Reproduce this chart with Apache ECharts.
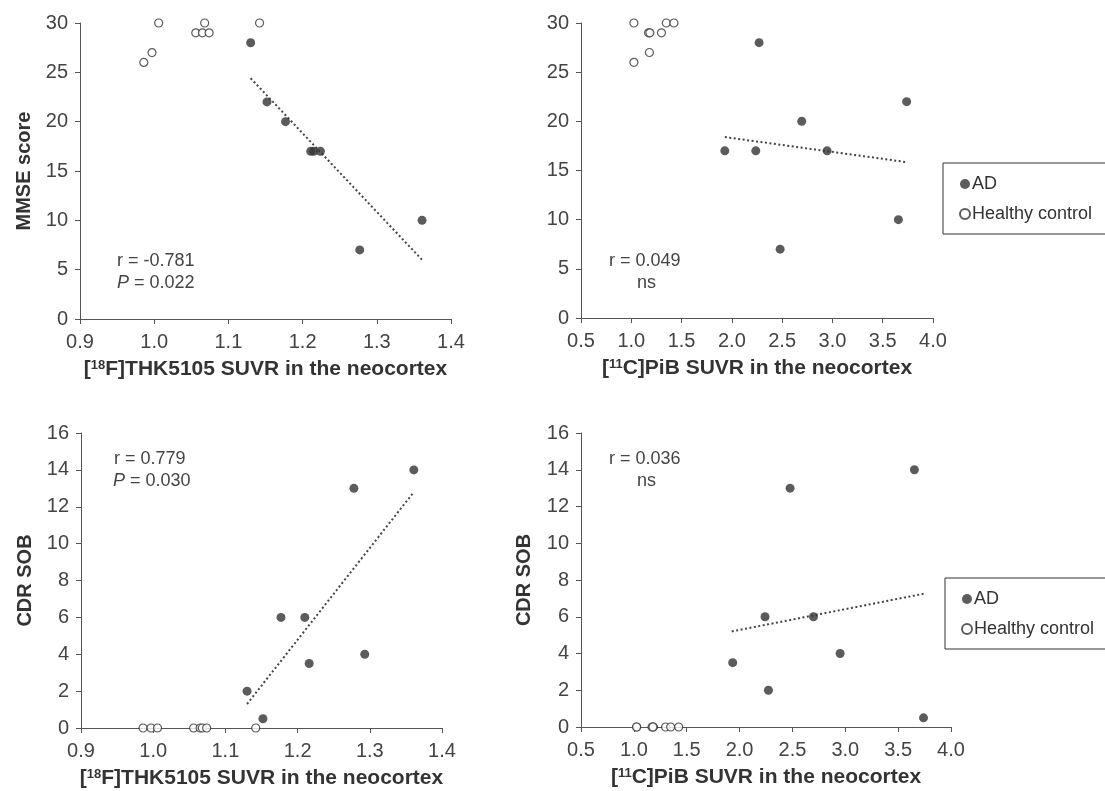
<!DOCTYPE html>
<html>
<head>
<meta charset="utf-8">
<title>THK5105 / PiB vs MMSE and CDR SOB</title>
<script src="https://cdn.jsdelivr.net/npm/echarts@6/dist/echarts.min.js"></script>
<style>
  html, body { margin: 0; padding: 0; background: #fff; }
  #chart { width: 1105px; height: 791px; }
</style>
</head>
<body>
<div id="chart"></div>
<script>
// panel 1: THK5105 SUVR vs MMSE
const thkMmseAdX = [1.130, 1.152, 1.177, 1.211, 1.215, 1.224, 1.277, 1.361];
const thkMmseAdY = [28, 22, 20, 17, 17, 17, 7, 10];
const thkHcX = [0.986, 0.997, 1.006, 1.056, 1.065, 1.068, 1.074, 1.142];
const thkMmseHcY = [26, 27, 30, 29, 29, 30, 29, 30];
const thkMmseTrendX = [1.130, 1.361];
const thkMmseTrendY = [24.4, 6.0];

// panel 2: PiB SUVR vs MMSE
const pibMmseAdX = [1.930, 2.238, 2.271, 2.480, 2.695, 2.947, 3.656, 3.738];
const pibMmseAdY = [17, 17, 28, 7, 20, 17, 10, 22];
const pibHcX = [1.026, 1.026, 1.172, 1.185, 1.180, 1.300, 1.348, 1.424];
const pibMmseHcY = [30, 26, 29, 29, 27, 29, 30, 30];
const pibMmseTrendX = [1.93, 3.738];
const pibMmseTrendY = [18.4, 15.85];

// panel 3: THK5105 SUVR vs CDR SOB
const thkCdrAdX = [1.130, 1.152, 1.177, 1.210, 1.216, 1.278, 1.293, 1.361];
const thkCdrAdY = [2, 0.5, 6, 6, 3.5, 13, 4, 14];
const thkCdrHcY = [0, 0, 0, 0, 0, 0, 0, 0];
const thkCdrTrendX = [1.130, 1.361];
const thkCdrTrendY = [1.3, 12.8];

// panel 4: PiB SUVR vs CDR SOB
const pibCdrAdX = [1.935, 2.241, 2.273, 2.478, 2.699, 2.951, 3.654, 3.740];
const pibCdrAdY = [3.5, 6, 2, 13, 6, 4, 14, 0.5];
const pibCdrHcY = [0, 0, 0, 0, 0, 0, 0, 0];
const pibCdrTrendX = [1.926, 3.74];
const pibCdrTrendY = [5.2, 7.25];

const statLabels = [
  ["r = -0.781", "{i|P} = 0.022"],
  ["r = 0.049", "ns"],
  ["r = 0.779", "{i|P} = 0.030"],
  ["r = 0.036", "ns"]
];

const FONT = "'Liberation Sans', Arial, sans-serif";
const AXIS_COLOR = "#555";
const LABEL_COLOR = "#444";
const DOT_COLOR = "#333";

const chart = echarts.init(document.getElementById("chart"));

function zip(xs, ys) {
  return xs.map((x, i) => [x, ys[i]]);
}

function xAxis(gridIndex, min, max, interval, tracer) {
  return {
    type: "value", gridIndex, min, max, interval,
    axisLine: { show: true, lineStyle: { color: AXIS_COLOR, width: 1 } },
    axisTick: { show: true, inside: false, length: 5, lineStyle: { color: AXIS_COLOR } },
    splitLine: { show: false },
    axisLabel: { color: LABEL_COLOR, fontSize: 20, fontFamily: FONT, margin: 13, formatter: (v) => v.toFixed(1) },
    name: "[{s|" + tracer[0] + "}" + tracer[1] + "]" + tracer[2] + " SUVR in the neocortex",
    nameLocation: "middle",
    nameGap: 40,
    nameTextStyle: {
      color: "#333", fontSize: 21, fontWeight: "bold", fontFamily: FONT,
      rich: { s: { fontSize: 13, fontWeight: "bold", fontFamily: FONT, color: "#333", padding: [0, 0, 8, 0] } }
    }
  };
}

function yAxis(gridIndex, max, interval, name, gap) {
  return {
    type: "value", gridIndex, min: 0, max, interval,
    axisLine: { show: true, lineStyle: { color: AXIS_COLOR, width: 1 } },
    axisTick: { show: true, inside: false, length: 5, lineStyle: { color: AXIS_COLOR } },
    splitLine: { show: false },
    axisLabel: { color: LABEL_COLOR, fontSize: 20, fontFamily: FONT, margin: 12 },
    name, nameLocation: "middle", nameGap: gap,
    nameTextStyle: { color: "#333", fontSize: 20, fontWeight: "bold", fontFamily: FONT }
  };
}

function adSeries(idx, xs, ys) {
  return {
    name: "AD", type: "scatter", xAxisIndex: idx, yAxisIndex: idx,
    symbol: "circle", symbolSize: 9, z: 4,
    itemStyle: { color: DOT_COLOR },
    data: zip(xs, ys)
  };
}

function hcSeries(idx, xs, ys) {
  return {
    name: "Healthy control", type: "scatter", xAxisIndex: idx, yAxisIndex: idx,
    symbol: "circle", symbolSize: 8, z: 4,
    itemStyle: { color: "#fff", borderColor: DOT_COLOR, borderWidth: 1.2 },
    data: zip(xs, ys)
  };
}

function trendSeries(idx, xs, ys) {
  return {
    name: "trend", type: "line", xAxisIndex: idx, yAxisIndex: idx,
    showSymbol: false, symbol: "none", z: 3, silent: true,
    lineStyle: { color: "#444", width: 2, type: [2, 2.5] },
    data: zip(xs, ys)
  };
}

function legend(top, left) {
  return {
    data: ["AD", "Healthy control"],
    orient: "vertical",
    left, top,
    borderColor: "#333", borderWidth: 1,
    padding: [12, 30, 11, 16],
    itemGap: 12,
    itemWidth: 10, itemHeight: 10,
    textStyle: { color: "#333", fontSize: 18, fontFamily: FONT, padding: [0, 0, 0, -3] },
    selectedMode: false
  };
}

function textEl(left, top, text) {
  return {
    type: "text", left, top,
    style: {
      text,
      fill: LABEL_COLOR,
      font: "18px " + FONT,
      rich: { i: { fontStyle: "italic", fontSize: 18, fontFamily: FONT, fill: LABEL_COLOR, color: LABEL_COLOR } }
    }
  };
}

function statText(left, top, lines, indent) {
  return [textEl(left, top, lines[0]), textEl(left + indent, top + 22, lines[1])];
}

chart.setOption({
  backgroundColor: "#fff",
  animation: false,
  textStyle: { fontFamily: FONT },
  grid: [
    { left: 80, top: 23, width: 371, height: 296 },
    { left: 581, top: 23, width: 352, height: 295 },
    { left: 81, top: 433, width: 361, height: 295 },
    { left: 581, top: 433, width: 370, height: 294 }
  ],
  xAxis: [
    xAxis(0, 0.9, 1.4, 0.1, ["18", "F", "THK5105"]),
    xAxis(1, 0.5, 4.0, 0.5, ["11", "C", "PiB"]),
    xAxis(2, 0.9, 1.4, 0.1, ["18", "F", "THK5105"]),
    xAxis(3, 0.5, 4.0, 0.5, ["11", "C", "PiB"])
  ],
  yAxis: [
    yAxis(0, 30, 5, "MMSE score", 46),
    yAxis(1, 30, 5, "", 46),
    yAxis(2, 16, 2, "CDR SOB", 46),
    yAxis(3, 16, 2, "CDR SOB", 47)
  ],
  legend: [legend(163, 943), legend(578, 945)],
  graphic: [].concat(
    statText(117, 252, statLabels[0], 0),
    statText(609, 252, statLabels[1], 28),
    statText(114, 450, statLabels[2], -1),
    statText(609, 450, statLabels[3], 28)
  ),
  series: [
    trendSeries(0, thkMmseTrendX, thkMmseTrendY),
    hcSeries(0, thkHcX, thkMmseHcY),
    adSeries(0, thkMmseAdX, thkMmseAdY),

    trendSeries(1, pibMmseTrendX, pibMmseTrendY),
    hcSeries(1, pibHcX, pibMmseHcY),
    adSeries(1, pibMmseAdX, pibMmseAdY),

    trendSeries(2, thkCdrTrendX, thkCdrTrendY),
    hcSeries(2, thkHcX, thkCdrHcY),
    adSeries(2, thkCdrAdX, thkCdrAdY),

    trendSeries(3, pibCdrTrendX, pibCdrTrendY),
    hcSeries(3, pibHcX, pibCdrHcY),
    adSeries(3, pibCdrAdX, pibCdrAdY)
  ]
});
</script>
</body>
</html>
